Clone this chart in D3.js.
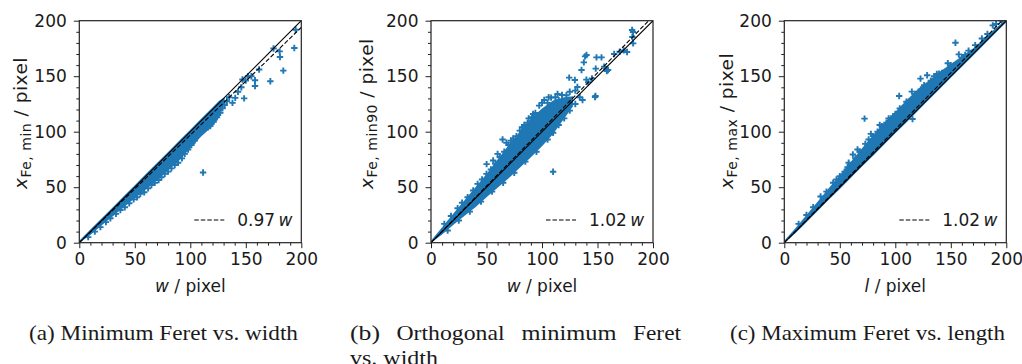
<!DOCTYPE html>
<html>
<head>
<meta charset="utf-8">
<script src="https://cdn.jsdelivr.net/npm/d3@7"></script>
<style>
  body { margin: 0; background: #fff; }
  svg { display: block; }
</style>
</head>
<body>
<div id="chart"></div>
<script>
// axis ticks
const majorTicks = [0, 50, 100, 150, 200];
const minorTicks = [10, 20, 30, 40, 60, 70, 80, 90, 110, 120, 130, 140, 160, 170, 180, 190];

// fitted slopes (dashed lines) and legend text
const slopes = [0.97, 1.02, 1.02];
const legendNumbers = ["0.97", "1.02", "1.02"];

// dense core of each scatter cloud: x, lower edge, upper edge
const coreAX  = [0, 10, 20, 30, 40, 50, 60, 70, 80, 90, 100, 110, 120, 126, 131];
const coreALo = [0, 7, 15.5, 23.5, 32, 40, 48, 56, 65, 74, 85, 96, 105, 113, 125];
const coreAHi = [1.8, 11.8, 21.8, 31.8, 41.8, 51.8, 61.8, 71.8, 81.8, 91.8, 101.8, 111.8, 121.8, 127.8, 131];

const coreBX  = [0, 10, 20, 30, 40, 50, 60, 70, 80, 90, 100, 110, 120, 128];
const coreBLo = [0, 7.5, 16, 24, 32, 41, 49.5, 58, 67.5, 77, 87, 98, 112, 123];
const coreBHi = [1.8, 14, 26, 38, 50, 62, 75, 88, 100, 112, 121, 128, 131, 132];

const coreCX  = [0, 10, 20, 30, 40, 50, 60, 70, 80, 90, 100, 110, 120, 130, 140, 150, 160, 170, 180, 190, 200];
const coreCLo = [0, 8.6, 18.4, 28.5, 38.6, 48.4, 58.5, 68.6, 78.4, 88.5, 98.6, 108.4, 118.5, 128.6, 138.4, 148.5, 158.6, 168.4, 178.5, 188.6, 198.5];
const coreCHi = [1.8, 13, 25, 37, 49, 61, 73, 85, 97, 108, 118, 128, 138, 146, 154, 161, 168, 175, 184, 193, 201];

// individual markers (edge fuzz and outliers)
const pointsA = [
  [8,5],[14,10],[19,14],[24,18.5],[28,22],[33,26],[37,29.5],[41,32],[45,35.5],[49,39],
  [52,41],[55,44],[58.5,45.5],[62,49],[65,52],[68,54],[71.5,56.5],[74,59],[77,62],[80,64],
  [83,67],[86,70],[89,72],[92.5,76],[95,80],[98,84],[101,88],[104,92],[107,97],[110,100],
  [113,103],[116,104],[118,105],[121,109],[124,113],[127,117],[129,121],[131,124],[133,127.5],
  [135,131],[138,126],[140.5,130.5],[143,136],[146,140],[148.5,130],[147,147],[150,146],
  [152,150],[155,150],[158.3,146.3],[158.3,141.2],[162,156],[172.1,145.4],[175,175],
  [180.5,172.4],[180.8,167.3],[183.8,155],[193.7,175.4],[194.9,191.9],[111.5,63.3],
  [66,60],[84,76],[96,88],[102,95],[112,106],[119,114]
];
const pointsB = [
  [12,17],[18,24],[24,31],[28,36],[33,41],[38,47],[42,53],[46,57],[50,62],[50.1,70.8],
  [54,66],[58,71],[62,77],[64.5,93],[66,82],[70,88],[74,94],[77,96],[80,101],[84,106],
  [87,108],[91,113],[94,117],[97.5,123.5],[102,128.6],[105,126],[108.2,130.7],[112,131],
  [115.1,128.3],[118,133],[122,132.8],[124.5,148.7],[129.6,146.6],[131.9,140.3],[125,136],
  [130,137],[15,11],[25,20],[35,28],[45,37],[55,46],[65,54],[75,63],[85,73],[95,82],
  [105,93],[110,99],[115,106],[120,112],[125,119],[130,125],[134,131],[136.5,128.6],
  [147.8,131.3],[148.2,132.2],[135.6,155.6],[137.7,162.5],[138.8,167.9],[140.1,169.1],
  [141.6,144.5],[140,146.9],[145,148],[148.4,156.8],[149.1,167],[153.6,167],[156,158.6],
  [158.4,154.7],[159.5,155.6],[165,170],[170,172],[173.6,173.3],[176.6,171.8],
  [181.2,191.6],[182,189.8],[181.4,185.3],[182.1,179.6],[110,63.9],
  [56,74],[60,80],[68,90],[72,92],[82,104],[88,112],[92,116],[100,126],[106,131],[114,134]
];
const pointsC = [
  [12.9,17],[20,25],[26,32],[32.7,41.6],[38,46],[44,54],[50,60],[54.3,64],[57,68],
  [61.8,79.4],[64,76],[68,82],[72.3,111.8],[73,89],[76,93],[80,96],[84,100],[88,105],
  [92,108],[96,112],[100,116],[103.5,132.2],[108,122],[112,127],[114.9,136.1],[118,134],
  [122.7,147.8],[123,138],[128.7,150.8],[132,146],[137.4,152],[139.4,152.3],[142,153],
  [147.3,161.6],[150,160],[154.2,180.2],[157.2,169.7],[162.9,169.1],[160,167],[166,173],
  [172,178],[178,184],[183,188],[187.8,195.8],[190.8,197],[196,200],[115.5,111.5],
  [47,57],[58,72],[66,84],[78,98],[86,106],[94,112],[104,121],[110,127],[126,142],[135,150]
];

const cores = [[coreAX, coreALo, coreAHi], [coreBX, coreBLo, coreBHi], [coreCX, coreCLo, coreCHi]];
const points = [pointsA, pointsB, pointsC];
const ySubs = ["Fe, min", "Fe, min90", "Fe, max"];
const xVars = ["w", "w", "l"];

const width = 1022, height = 364;
const blue = "#1f77b4";
const plotTop = 20.7, size = 222;
const lefts = [79.3, 431, 784.3];
const yLabelX = [26.5, 372.5, 732.5];
const fs = "17px";

const svg = d3.select("#chart").append("svg")
  .attr("width", width)
  .attr("height", height)
  .style("font-family", "'DejaVu Sans', sans-serif");

const x = d3.scaleLinear().domain([0, 200]).range([0, size]);
const y = d3.scaleLinear().domain([0, 200]).range([size, 0]);

lefts.forEach((left, i) => {
  const g = svg.append("g").attr("transform", `translate(${left},${plotTop})`);

  g.append("clipPath").attr("id", "clip" + i)
    .append("rect").attr("width", size).attr("height", size);

  const plot = g.append("g").attr("clip-path", `url(#clip${i})`);

  // dense core
  const [cx, lo, hi] = cores[i];
  const area = d3.area()
    .x((d, k) => x(cx[k]))
    .y0((d, k) => y(lo[k]))
    .y1((d, k) => y(hi[k]));
  plot.append("path")
    .attr("d", area(cx))
    .attr("fill", blue);

  // markers
  plot.selectAll(".pt")
    .data(points[i])
    .enter()
    .append("path")
    .attr("d", "M-3.2,0H3.2M0,-3.2V3.2")
    .attr("transform", d => `translate(${x(d[0])},${y(d[1])})`)
    .attr("stroke", blue)
    .attr("stroke-width", 1.9)
    .attr("fill", "none");

  // identity line and fit
  plot.append("line")
    .attr("x1", x(0)).attr("y1", y(0))
    .attr("x2", x(200)).attr("y2", y(200))
    .attr("stroke", "#000").attr("stroke-width", 1.1);
  plot.append("line")
    .attr("x1", x(0)).attr("y1", y(0))
    .attr("x2", x(200)).attr("y2", y(200 * slopes[i]))
    .attr("stroke", "#000").attr("stroke-width", 1.1)
    .attr("stroke-dasharray", "4.5,2");

  // axes
  g.append("g").attr("transform", `translate(0,${size})`)
    .call(d3.axisBottom(x).tickValues(majorTicks).tickSize(5.5).tickPadding(5));
  g.append("g").attr("transform", `translate(0,${size})`)
    .call(d3.axisBottom(x).tickValues(minorTicks).tickSize(3).tickFormat(""));
  g.append("g")
    .call(d3.axisLeft(y).tickValues(majorTicks).tickSize(5.5).tickPadding(7));
  g.append("g")
    .call(d3.axisLeft(y).tickValues(minorTicks).tickSize(3).tickFormat(""));

  g.selectAll(".domain").remove();
  g.selectAll(".tick line").attr("stroke", "#222").attr("stroke-width", 1);
  g.selectAll(".tick text")
    .attr("fill", "#1a1a1a")
    .style("font-size", fs)
    .style("font-family", "'DejaVu Sans', sans-serif");

  // frame
  g.append("rect")
    .attr("width", size).attr("height", size)
    .attr("fill", "none")
    .attr("stroke", "#222").attr("stroke-width", 1.2);

  // x label
  const xl = g.append("text")
    .attr("x", size / 2).attr("y", 292 - plotTop)
    .attr("text-anchor", "middle")
    .attr("fill", "#1a1a1a")
    .style("font-size", fs);
  xl.append("tspan").style("font-style", "italic").text(xVars[i]);
  xl.append("tspan").text(" / pixel");

  // legend
  g.append("line")
    .attr("x1", 115).attr("x2", 145)
    .attr("y1", 199.3).attr("y2", 199.3)
    .attr("stroke", "#000").attr("stroke-width", 1.1)
    .attr("stroke-dasharray", "4.5,2");
  const lt = g.append("text")
    .attr("x", 158).attr("y", 205.5)
    .attr("fill", "#1a1a1a")
    .style("font-size", fs);
  lt.append("tspan").text(legendNumbers[i] + "\u2009");
  lt.append("tspan").style("font-style", "italic").text("w");

  // y label
  const yl = svg.append("text")
    .attr("transform", `translate(${yLabelX[i]},189) rotate(-90)`)
    .attr("text-anchor", "start")
    .attr("fill", "#1a1a1a")
    .style("font-size", "18.5px")
    .style("letter-spacing", "0.5px");
  yl.append("tspan").style("font-style", "italic").text("x");
  yl.append("tspan").attr("dy", 4.5).style("font-size", "14px").text(ySubs[i]);
  yl.append("tspan").attr("dy", -4.5).text(" / pixel");
});

// captions
const capFont = "'Liberation Serif', 'Times New Roman', serif";
function caption(txt, x0, len, yb) {
  svg.append("text")
    .attr("x", x0).attr("y", yb)
    .attr("textLength", len)
    .attr("lengthAdjust", "spacingAndGlyphs")
    .attr("fill", "#1a1a1a")
    .style("font-family", capFont)
    .style("font-size", "21px")
    .text(txt);
}
caption("(a) Minimum Feret vs. width", 29, 269, 340);
caption("(b)", 350, 30, 340);
caption("Orthogonal", 396.5, 108, 340);
caption("minimum", 521.5, 95, 340);
caption("Feret", 633, 48, 340);
caption("vs. width", 350, 88, 364.5);
caption("(c) Maximum Feret vs. length", 730, 275, 340);
</script>
</body>
</html>
